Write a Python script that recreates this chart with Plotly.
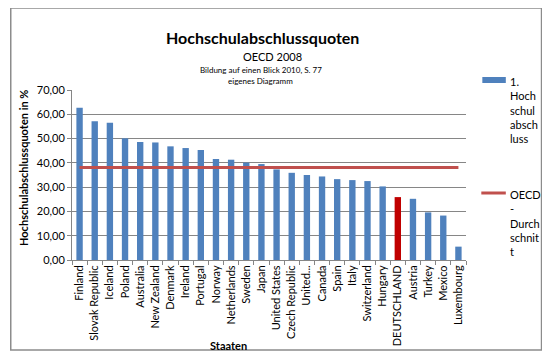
import plotly.graph_objects as go

countries = ["Finland", "Slovak Republic", "Iceland", "Poland", "Australia", "New Zealand",
             "Denmark", "Ireland", "Portugal", "Norway", "Netherlands", "Sweden", "Japan",
             "United States", "Czech Republic", "United...", "Canada", "Spain", "Italy",
             "Switzerland", "Hungary", "DEUTSCHLAND", "Austria", "Turkey", "Mexico", "Luxembourg"]
values = [62.7, 57.1, 56.5, 50.1, 48.6, 48.4, 46.8, 46.1, 45.3, 41.6, 41.3, 40.1, 39.5,
          37.3, 35.9, 35.0, 34.4, 33.3, 32.9, 32.5, 30.3, 25.9, 25.2, 19.6, 18.3, 5.5]
oecd_avg = [38.1] * len(countries)
highlight = "DEUTSCHLAND"

FONT = "Lato"
bar_colors = ["#C00000" if c == highlight else "#4F81BD" for c in countries]

fig = go.Figure()
fig.add_trace(go.Bar(x=countries, y=values, marker_color=bar_colors,
                     marker_line_width=0, showlegend=False))
fig.add_trace(go.Scatter(x=countries, y=oecd_avg, mode="lines",
                         line=dict(color="#C0504D", width=3), showlegend=False))

# reference-pixel geometry (page is offset by the 8px body margin)
OFF = 8
L, R, T, B = 72, 458, 90, 260
W, H = 550 - OFF, 360 - OFF
pw, ph = R - L, B - T

def px(x):
    return (x - L) / pw

def py(y):
    return (B - y) / ph

shapes = [
    dict(type="rect", xref="paper", yref="paper", x0=px(12), x1=px(532), y0=py(350), y1=py(8),
         line=dict(color="#8C8C8C", width=1.5), fillcolor="rgba(0,0,0,0)", layer="below"),
    dict(type="rect", xref="paper", yref="paper", x0=px(474), x1=px(497), y0=py(83), y1=py(77),
         line=dict(width=0), fillcolor="#4F81BD"),
    dict(type="line", xref="paper", yref="paper", x0=px(473), x1=px(497), y0=py(193), y1=py(193),
         line=dict(color="#C0504D", width=3)),
]

def ann(text, x, y, size, **kw):
    d = dict(text=text, x=px(x), y=py(y), xref="paper", yref="paper", showarrow=False,
             xanchor="center", yanchor="middle", font=dict(family=FONT, size=size, color="#000"))
    d.update(kw)
    return d

annotations = [
    ann("<b>Hochschulabschlussquoten</b>", 259, 38, 16),
    ann("OECD 2008", 268, 56, 11),
    ann("Bildung auf einen Blick 2010, S. 77", 257, 70, 8),
    ann("eigenes Diagramm", 257, 81, 8),
    ann("1.<br>Hoch<br>schul<br>absch<br>luss", 499, 73, 11, xanchor="left", yanchor="top", align="left"),
    ann("OECD<br>-<br>Durch<br>schnit<br>t", 499, 186, 11, xanchor="left", yanchor="top", align="left"),
    ann("<b>Staaten</b>", 225, 345, 11),
    ann("<b>Hochschulabschlussquoten in %</b>", 24, 168, 11, textangle=-90),
]

fig.update_layout(
    width=W, height=H,
    margin=dict(l=L - OFF, r=(550 - R) - OFF, t=T - OFF, b=360 - B - OFF + OFF, autoexpand=False),
    paper_bgcolor="white", plot_bgcolor="white",
    bargap=0.58,
    separators=",.",
    font=dict(family=FONT, size=11, color="#000"),
    shapes=shapes, annotations=annotations,
    xaxis=dict(type="category", tickangle=-90, tickson="boundaries", ticks="outside",
               ticklen=4, tickcolor="#868686", showline=True, linecolor="#868686",
               tickfont=dict(family=FONT, size=11), showgrid=False),
    yaxis=dict(range=[0, 70], dtick=10, tickformat=".2f", showgrid=True, gridcolor="#868686",
               gridwidth=1, ticks="outside", ticklen=4, tickcolor="#868686", showline=True,
               linecolor="#868686", tickfont=dict(family=FONT, size=11), zeroline=False),
)

fig.write_html("out.html")
